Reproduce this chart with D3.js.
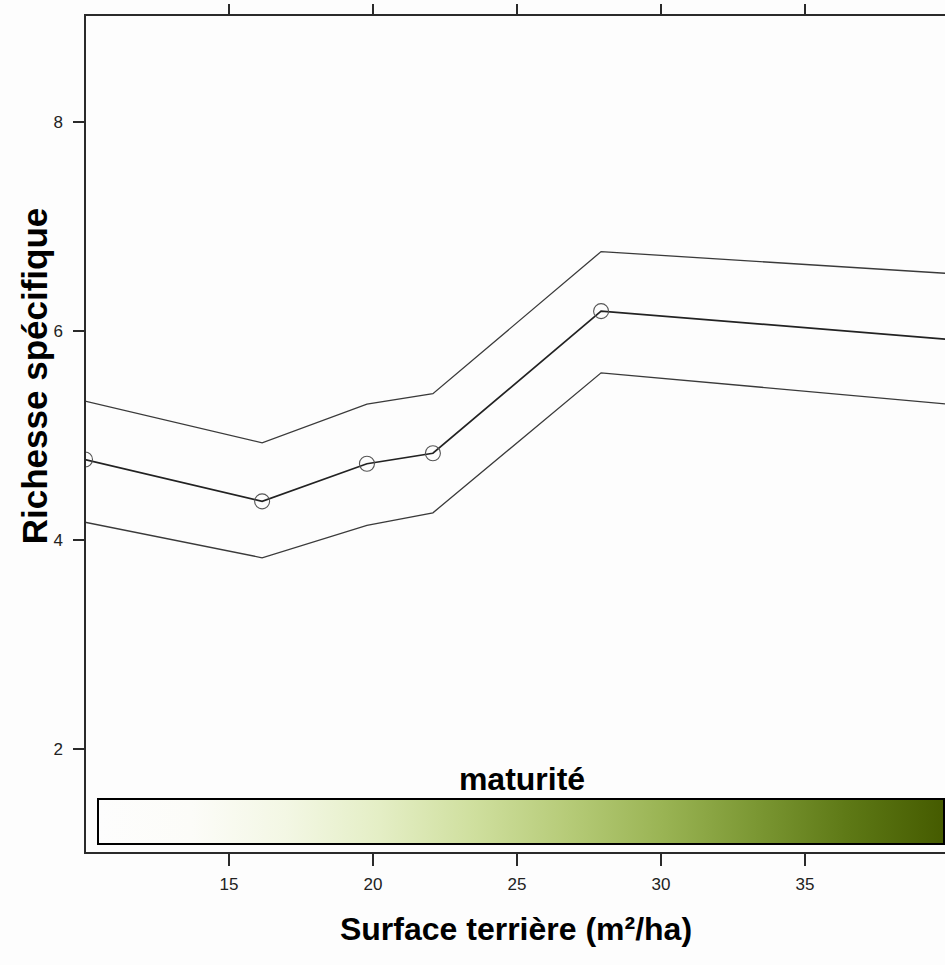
<html>
<script src="https://d3js.org/d3.v7.min.js"></script>
<body style="margin:0;background:#fdfdfd">
<svg height="965" width="945" id="graph1"></svg>
<script>

// Values
var surface = [10, 16.15, 19.79, 22.08, 27.92, 40];
var richesse = [4.77, 4.37, 4.73, 4.83, 6.19, 5.92];
var borneHaute = [5.33, 4.93, 5.30, 5.40, 6.76, 6.55];
var borneBasse = [4.17, 3.83, 4.14, 4.26, 5.60, 5.30];
// observed points carry a circle (last x is only where the curve leaves the panel)
var pointsObs = [0, 1, 2, 3, 4];

var xTicks = [15, 20, 25, 30, 35];
var yTicks = [2, 4, 6, 8];

// colour ramp of the "maturité" key
var rampeMaturite = ["#fdfdfd", "#fcfcf8", "#f3f7e4", "#e4eec5", "#cfdf9e", "#b6cb78", "#9ab454", "#7b9733", "#5d7815", "#455b00"];

var svg = d3.select("#graph1");

// panel limits
var pLeft = 85, pRight = 949, pTop = 15, pBottom = 853;

var x = d3.scaleLinear().domain([10, 40]).range([pLeft, pRight]);
var y = d3.scaleLinear().domain([2, 8]).range([749, 122]);

svg.append("rect").attr("width", 945).attr("height", 965).style("fill", "#fdfdfd");

svg.append("clipPath").attr("id", "panel")
  .append("rect").attr("x", pLeft).attr("y", pTop)
  .attr("width", pRight - pLeft).attr("height", pBottom - pTop);

var font = "Arial, 'Liberation Sans', sans-serif";

// lines
var line = d3.line().x(function(d) { return x(d[0]); }).y(function(d) { return y(d[1]); });
var g = svg.append("g").attr("clip-path", "url(#panel)");

[borneHaute, borneBasse].forEach(function(serie) {
  g.append("path")
    .attr("d", line(d3.zip(surface, serie)))
    .style("fill", "none").style("stroke", "#3a3a3a").style("stroke-width", 1.3);
});
g.append("path")
  .attr("d", line(d3.zip(surface, richesse)))
  .style("fill", "none").style("stroke", "#222").style("stroke-width", 1.7);

g.selectAll("circle").data(pointsObs).enter().append("circle")
  .attr("cx", function(i) { return x(surface[i]); })
  .attr("cy", function(i) { return y(richesse[i]); })
  .attr("r", 7.5)
  .style("fill", "none").style("stroke", "#555").style("stroke-width", 1.1);

// key bar
var grad = svg.append("defs").append("linearGradient").attr("id", "rampe");
rampeMaturite.forEach(function(c, i) {
  grad.append("stop").attr("offset", (i / (rampeMaturite.length - 1) * 100) + "%").attr("stop-color", c);
});
svg.append("rect").attr("x", 98).attr("y", 799).attr("width", 846).attr("height", 45)
  .style("fill", "url(#rampe)").style("stroke", "#000").style("stroke-width", 2);
svg.append("text").attr("x", 522).attr("y", 790).attr("text-anchor", "middle")
  .style("font-family", font).style("font-weight", "bold").style("font-size", "32px")
  .text("maturité");

// panel border (lattice style box)
svg.append("path")
  .attr("d", "M" + pRight + "," + pTop + "H" + pLeft + "V" + pBottom + "H" + pRight)
  .style("fill", "none").style("stroke", "#2a2a2a").style("stroke-width", 2);

// ticks
var tickStyle = function(sel) { sel.style("stroke", "#2a2a2a").style("stroke-width", 2); };
xTicks.forEach(function(t) {
  svg.append("line").attr("x1", x(t)).attr("x2", x(t)).attr("y1", 4).attr("y2", pTop).call(tickStyle);
  svg.append("line").attr("x1", x(t)).attr("x2", x(t)).attr("y1", pBottom).attr("y2", pBottom + 13).call(tickStyle);
  svg.append("text").attr("x", x(t)).attr("y", 890).attr("text-anchor", "middle")
    .style("font-family", font).style("font-size", "17px").style("fill", "#222").text(t);
});
yTicks.forEach(function(t) {
  svg.append("line").attr("x1", 73).attr("x2", pLeft).attr("y1", y(t)).attr("y2", y(t)).call(tickStyle);
  svg.append("text").attr("x", 63).attr("y", y(t) + 6).attr("text-anchor", "end")
    .style("font-family", font).style("font-size", "17px").style("fill", "#222").text(t);
});

// axis titles
svg.append("text").attr("x", 516).attr("y", 940).attr("text-anchor", "middle")
  .style("font-family", font).style("font-weight", "bold").style("font-size", "32px")
  .text("Surface terrière (m²/ha)");
svg.append("text").attr("transform", "translate(47,376) rotate(-90)").attr("text-anchor", "middle")
  .style("font-family", font).style("font-weight", "bold").style("font-size", "35px")
  .text("Richesse spécifique");

</script>
</body>
</html>
